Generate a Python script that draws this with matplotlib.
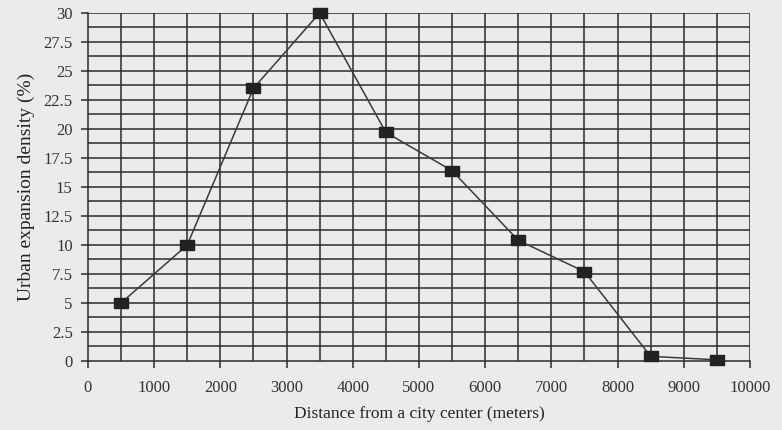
import numpy as np
import matplotlib
matplotlib.use('Agg')
import matplotlib.pyplot as plt
from matplotlib.path import Path

#data
distance=[500,1500,2500,3500,4500,5500,6500,7500,8500,9500]
density=[5.0,10.0,23.5,30.0,19.7,16.4,10.4,7.7,0.4,0.1]

x_ticks=list(range(0,10001,1000))
y_ticks=[0,2.5,5,7.5,10,12.5,15,17.5,20,22.5,25,27.5,30]
y_tick_labels=['0','2.5','5','7.5','10','12.5','15','17.5','20','22.5','25','27.5','30']

plt.rcParams['font.family']=['Liberation Serif','DejaVu Serif']

paper='#e9ebed'
ink='#2b2b2b'

fig=plt.figure(figsize=(7.82,4.30),dpi=100,facecolor=paper)
ax=fig.add_axes([0.1125,0.1605,0.8465,0.8095])
ax.set_facecolor(paper)

#grid every 500 m and every 1.25 %
for gx in np.arange(500,10001,500):
    ax.axvline(gx,color=ink,lw=1.1,zorder=1)
for gy in np.arange(1.25,30.01,1.25):
    ax.axhline(gy,color=ink,lw=1.1,zorder=1)

#wide rectangle marker
rect=Path([(-1,-0.65),(1,-0.65),(1,0.65),(-1,0.65),(-1,-0.65)],
          [Path.MOVETO,Path.LINETO,Path.LINETO,Path.LINETO,Path.CLOSEPOLY])

ax.plot(distance,density,color='#3a3a3a',lw=1.1,marker=rect,markersize=10.5,
        markerfacecolor='#222222',markeredgecolor='#222222',zorder=3,clip_on=False)

ax.set_xlim(0,10000)
ax.set_ylim(0,30)
ax.set_xticks(x_ticks)
ax.set_yticks(y_ticks)
ax.set_yticklabels(y_tick_labels)

for s in ['top','right']:
    ax.spines[s].set_visible(False)
for s in ['left','bottom']:
    ax.spines[s].set_color(ink)
    ax.spines[s].set_linewidth(1.1)

ax.tick_params(axis='both',direction='out',length=5,width=1.1,color=ink,
               labelsize=12,labelcolor='#333333')
ax.tick_params(axis='x',pad=9)
ax.tick_params(axis='y',pad=6)

ax.set_xlabel('Distance from a city center (meters)',fontsize=12.5,color='#222222',labelpad=7)
ax.set_ylabel('Urban expansion density (%)',fontsize=14,color='#222222',labelpad=6)

plt.savefig('out.png',dpi=100,facecolor=paper)
